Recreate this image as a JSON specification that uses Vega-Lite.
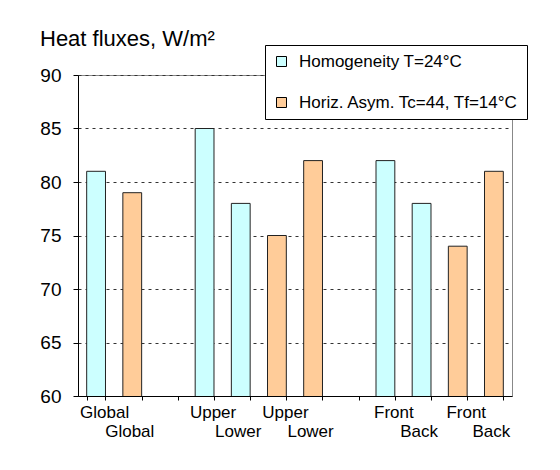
{
  "$schema": "https://vega.github.io/schema/vega-lite/v6.json",
  "width": 434,
  "height": 321,
  "autosize": {"type": "none"},
  "padding": {"left": 78, "top": 75, "right": 48, "bottom": 74},
  "background": "white",
  "title": {
    "text": "Heat fluxes, W/m²",
    "anchor": "start",
    "frame": "group",
    "dx": -38,
    "offset": -6,
    "fontSize": 22,
    "fontWeight": "normal",
    "font": "Liberation Sans",
    "color": "black"
  },
  "data": {
    "values": [
      {"cat": 1, "series": "Homogeneity T=24°C", "value": 81},
      {"cat": 2, "series": "Horiz. Asym. Tc=44, Tf=14°C", "value": 79},
      {"cat": 4, "series": "Homogeneity T=24°C", "value": 85},
      {"cat": 5, "series": "Homogeneity T=24°C", "value": 78},
      {"cat": 6, "series": "Horiz. Asym. Tc=44, Tf=14°C", "value": 75},
      {"cat": 7, "series": "Horiz. Asym. Tc=44, Tf=14°C", "value": 82},
      {"cat": 9, "series": "Homogeneity T=24°C", "value": 82},
      {"cat": 10, "series": "Homogeneity T=24°C", "value": 78},
      {"cat": 11, "series": "Horiz. Asym. Tc=44, Tf=14°C", "value": 74},
      {"cat": 12, "series": "Horiz. Asym. Tc=44, Tf=14°C", "value": 81}
    ]
  },
  "mark": {"type": "bar", "stroke": "#222222", "strokeWidth": 1, "clip": true},
  "encoding": {
    "x": {
      "field": "cat",
      "type": "ordinal",
      "scale": {"domain": [1,2,3,4,5,6,7,8,9,10,11,12], "paddingInner": 0.48, "paddingOuter": 0.24},
      "axis": {
        "title": null,
        "labelAngle": 0,
        "labelExpr": "['','Global','Global','','Upper','Lower','Upper','Lower','','Front','Back','Front','Back'][datum.value]",
        "labelFontSize": 17,
        "labelColor": "black",
        "labelPadding": {"condition": {"test": "indexof([1,4,6,9,11], datum.value) >= 0", "value": 4}, "value": 23},
        "labelOffset": {"condition": {"test": "indexof([1,4,6,9,11], datum.value) >= 0", "value": 8}, "value": -3},
        "labelOverlap": false,
        "labelBound": false,
        "labelFlush": false,
        "tickBand": "extent",
        "tickSize": 4,
        "tickColor": "black",
        "domainColor": "black",
        "grid": false
      }
    },
    "y": {
      "field": "value",
      "type": "quantitative",
      "scale": {"domain": [60, 90], "nice": false, "zero": false},
      "axis": {
        "title": null,
        "values": [60, 65, 70, 75, 80, 85, 90],
        "labelFontSize": 19,
        "labelColor": "black",
        "labelPadding": 12,
        "tickSize": 5,
        "tickColor": "black",
        "domainColor": "black",
        "grid": true,
        "gridColor": "#333333",
        "gridDash": [3, 4],
        "gridWidth": 1
      }
    },
    "fill": {
      "field": "series",
      "type": "nominal",
      "scale": {"domain": ["Homogeneity T=24°C", "Horiz. Asym. Tc=44, Tf=14°C"], "range": ["#CCFFFF", "#FFCC99"]},
      "legend": {
        "title": null,
        "orient": "none",
        "legendX": 187,
        "legendY": -30,
        "strokeColor": "black",
        "fillColor": "white",
        "padding": 8,
        "labelFontSize": 17,
        "labelColor": "black",
        "labelLimit": 400,
        "labelOffset": 9,
        "symbolType": "square",
        "symbolSize": 100,
        "symbolStrokeColor": "black",
        "symbolStrokeWidth": 1,
        "rowPadding": 23
      }
    }
  },
  "config": {
    "font": "Liberation Sans",
    "view": {"stroke": "#888888", "strokeWidth": 1}
  }
}
